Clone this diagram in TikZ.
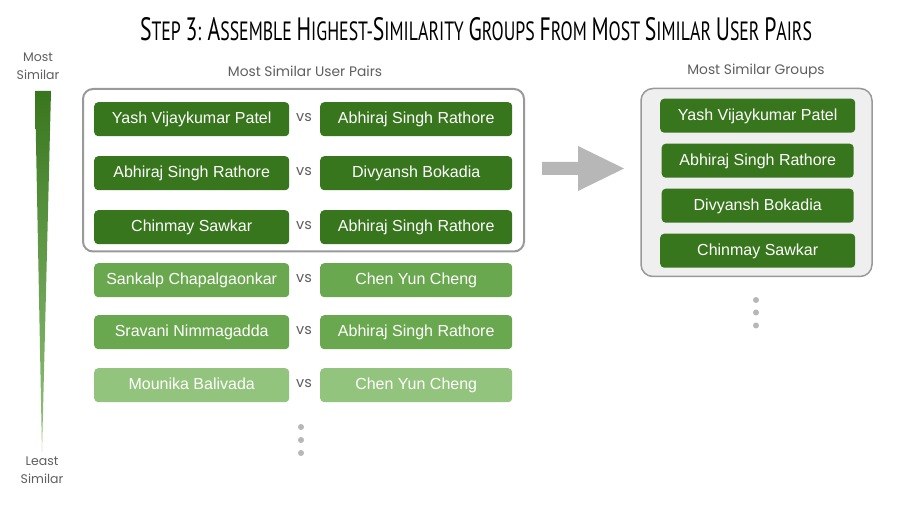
\documentclass[tikz,border=0pt]{standalone}
\usepackage{fontspec}
\usepackage{graphicx}
\setmainfont{Liberation Sans}
\newfontfamily\qfont{Poppins}
\newfontfamily\tfont{PT Sans}
\definecolor{dg}{HTML}{38761D}
\definecolor{mg}{HTML}{6AA84F}
\definecolor{lg}{HTML}{93C47D}
\definecolor{bord}{HTML}{999999}
\definecolor{grayfill}{HTML}{EFEFEF}
\definecolor{arrowgray}{HTML}{B7B7B7}
\definecolor{dotgray}{HTML}{B7B7B7}
\definecolor{labgray}{HTML}{5F5F5F}
\newcommand\TTbig[1]{{\fontsize{33}{33}\selectfont #1}}
\begin{document}
\begin{tikzpicture}[x=1pt,y=-1pt,
  namebox/.style={fill=#1, rounded corners=4pt, text=white,
    font=\fontsize{16}{17}\selectfont, inner sep=0pt, anchor=north west,
    minimum height=34pt, text height=11.5pt, text depth=2pt},
  leftbox/.style={namebox=#1, minimum width=195pt},
  rightbox/.style={namebox=#1, minimum width=192pt},
  vslab/.style={font=\qfont\fontsize{14.5}{15}\selectfont, text=labgray, inner sep=0pt},
  lab/.style={font=\qfont\fontsize{12.5}{18}\selectfont, text=labgray, align=center, inner sep=0pt},
  hlab/.style={font=\qfont\fontsize{13.8}{18}\selectfont, text=labgray, inner sep=0pt},
  dot/.style={circle, fill=dotgray, inner sep=0pt, minimum size=6pt},
]
\useasboundingbox (0,0) rectangle (905,510);
\fill[white] (0,0) rectangle (905,510);

% title
\node (title) at (476,29) {\resizebox{672pt}{23pt}{\tfont\fontsize{27}{27}\selectfont
 \TTbig{S}TEP \TTbig{3}: \TTbig{A}SSEMBLE \TTbig{H}IGHEST-\TTbig{S}IMILARITY \TTbig{G}ROUPS \TTbig{F}ROM \TTbig{M}OST \TTbig{S}IMILAR \TTbig{U}SER \TTbig{P}AIRS}};

% scale
\shade[top color=dg, bottom color=lg] (35,91) -- (51,91) -- (42,452) -- cycle;
\node[lab] (most) at (38,66) {Most\\Similar};
\node[lab] (least) at (42,470) {Least\\Similar};

% headers
\node[hlab] (hpairs) at (305,71) {Most Similar User Pairs};
\node[hlab] (hgroups) at (756,71) {Most Similar Groups};

% outer frames
\draw[bord, line width=2pt, rounded corners=10pt] (83,89) rectangle (524,251.5);
\draw[bord, fill=grayfill, line width=1.5pt, rounded corners=12pt] (641,88.5) rectangle (872,276.5);

% pairs
\node[leftbox=dg] (l1) at (94,102) {Yash Vijaykumar Patel};
\node[rightbox=dg] (r1) at (320,102) {Abhiraj Singh Rathore};
\node[leftbox=dg] (l2) at (94,156) {Abhiraj Singh Rathore};
\node[rightbox=dg] (r2) at (320,156) {Divyansh Bokadia};
\node[leftbox=dg] (l3) at (94,210) {Chinmay Sawkar};
\node[rightbox=dg] (r3) at (320,210) {Abhiraj Singh Rathore};
\node[leftbox=mg] (l4) at (94,263) {Sankalp Chapalgaonkar};
\node[rightbox=mg] (r4) at (320,263) {Chen Yun Cheng};
\node[leftbox=mg] (l5) at (94,315) {Sravani Nimmagadda};
\node[rightbox=mg] (r5) at (320,315) {Abhiraj Singh Rathore};
\node[leftbox=lg] (l6) at (94,368) {Mounika Balivada};
\node[rightbox=lg] (r6) at (320,368) {Chen Yun Cheng};

\foreach \i/\y in {1/117.5,2/171.5,3/225.5,4/278.5,5/330.5,6/383.5}
  \node[vslab] (vs\i) at (304,\y) {vs};

% dots
\node[dot] (d1) at (301,427) {};
\node[dot] (d2) at (301,440) {};
\node[dot] (d3) at (301,453) {};

% arrow
\fill[arrowgray] (542,162) -- (578,162) -- (578,146) -- (624,168.5) -- (578,191) -- (578,175) -- (542,175) -- cycle;

% groups
\node[namebox=dg, minimum width=195pt] (g1) at (660,98.5) {Yash Vijaykumar Patel};
\node[namebox=dg, minimum width=192pt] (g2) at (661.5,143.5) {Abhiraj Singh Rathore};
\node[namebox=dg, minimum width=192pt] (g3) at (661.5,188.5) {Divyansh Bokadia};
\node[namebox=dg, minimum width=195pt] (g4) at (660,233.5) {Chinmay Sawkar};

\node[dot] (e1) at (756,300) {};
\node[dot] (e2) at (756,312.5) {};
\node[dot] (e3) at (756,325.5) {};
\end{tikzpicture}
\end{document}
